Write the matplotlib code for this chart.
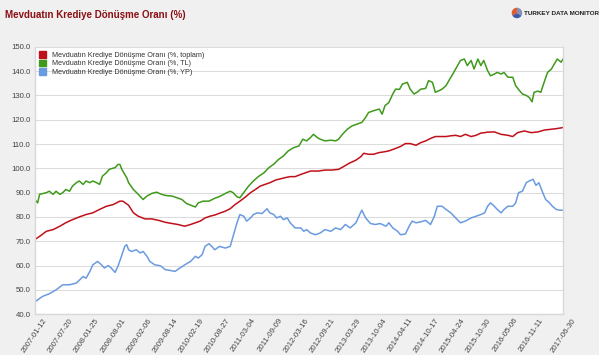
import matplotlib
matplotlib.use("Agg")
import matplotlib.pyplot as plt
import matplotlib.patches as mpatches
import pandas as pd

plt.rcParams['font.family'] = ['Liberation Sans', 'DejaVu Sans']

title = "Mevduatın Krediye Dönüşme Oranı (%)"
brand = "TURKEY DATA MONITOR"
series_names = ["Mevduatın Krediye Dönüşme Oranı (%, toplam)",
                "Mevduatın Krediye Dönüşme Oranı (%, TL)",
                "Mevduatın Krediye Dönüşme Oranı (%, YP)"]
start_date = "2007-01-12"
tick_labels = ["2007-01-12", "2007-07-20", "2008-01-25", "2008-08-01", "2009-02-06",
               "2009-08-14", "2010-02-19", "2010-08-27", "2011-03-04", "2011-09-09",
               "2012-03-16", "2012-09-21", "2013-03-29", "2013-10-04", "2014-04-11",
               "2014-10-17", "2015-04-24", "2015-10-30", "2016-05-06", "2016-11-11",
               "2017-06-30"]
y_ticks = [40, 50, 60, 70, 80, 90, 100, 110, 120, 130, 140, 150]

# weeks since start_date and values
tl_weeks = [0, 3, 5, 12, 15, 19, 22, 26, 29, 32, 36, 39, 43, 46, 50, 53, 57, 60, 64, 67,
            70, 74, 77, 83, 86, 88, 90, 93, 95, 97, 102, 107, 112, 116, 121, 126, 131,
            136, 142, 147, 152, 157, 162, 166, 169, 174, 180, 185, 190, 192, 197, 202,
            205, 209, 212, 216, 221, 226, 231, 237, 242, 247, 252, 257, 262, 268, 273,
            277, 281, 285, 288, 292, 295, 300, 306, 311, 314, 318, 323, 328, 333, 338,
            342, 345, 350, 356, 359, 362, 366, 370, 373, 377, 380, 385, 388, 392, 395,
            399, 404, 407, 411, 414, 418, 421, 425, 428, 432, 437, 440, 444, 447, 451,
            454, 458, 461, 464, 468, 471, 475, 478, 482, 485, 489, 494, 497, 501, 504,
            508, 511, 514, 516, 520, 523, 527, 530, 534, 537, 540, 544, 546]
tl_vals = [87.2, 85.8, 89.3, 90.0, 90.6, 89.3, 90.6, 89.3, 90.0, 91.3, 90.6, 92.7, 94.1,
           94.8, 93.4, 94.8, 94.1, 94.8, 94.1, 93.4, 96.8, 98.2, 99.6, 100.3, 101.6, 101.6,
           99.6, 97.5, 96.2, 94.1, 91.3, 89.3, 87.2, 88.6, 89.7, 90.2, 89.3, 88.8, 88.6,
           87.9, 87.2, 85.5, 84.7, 84.1, 85.8, 86.5, 86.5, 87.5, 88.3, 88.6, 89.7, 90.6,
           90.0, 88.3, 87.9, 90.0, 92.7, 94.8, 96.6, 98.2, 100.3, 101.7, 103.7, 105.1,
           107.2, 108.6, 109.2, 112.0, 111.3, 112.7, 114.0, 112.7, 112.0, 111.3, 111.6,
           111.3, 112.0, 114.0, 116.1, 117.5, 118.2, 118.9, 121.0, 123.0, 123.7, 124.4,
           122.3, 125.8, 127.1, 130.6, 132.6, 132.5, 134.7, 135.4, 132.6, 130.6, 131.3,
           132.6, 132.9, 136.1, 135.4, 131.3, 132.0, 132.6, 134.0, 136.1, 138.8, 142.3,
           144.4, 145.0, 142.3, 144.4, 140.9, 145.0, 142.3, 144.4, 140.2, 138.1, 138.8,
           139.5, 138.8, 139.5, 137.5, 137.5, 134.0, 132.0, 130.6, 130.0, 129.2, 127.4,
           131.3, 131.8, 131.3, 136.1, 139.5, 140.9, 143.0, 145.0, 143.7, 145.0]

tot_weeks = [0, 5, 12, 19, 26, 32, 39, 46, 53, 60, 67, 74, 81, 88, 91, 95, 97, 102, 107,
             114, 121, 128, 135, 142, 148, 155, 161, 166, 171, 176, 181, 186, 192, 197,
             202, 207, 212, 218, 223, 228, 233, 238, 243, 249, 254, 259, 264, 269, 275,
             280, 285, 293, 300, 307, 314, 319, 325, 332, 337, 340, 345, 350, 356, 361,
             366, 371, 378, 383, 388, 394, 399, 404, 409, 414, 420, 425, 430, 435, 440,
             445, 451, 456, 461, 465, 468, 475, 482, 489, 494, 499, 506, 513, 520, 527,
             534, 540, 546]
tot_vals = [70.7, 72.0, 74.1, 74.8, 76.2, 77.6, 78.9, 80.0, 81.0, 81.7, 83.1, 84.4, 85.1,
            86.5, 86.5, 85.4, 84.8, 81.7, 80.3, 79.2, 79.2, 78.6, 77.8, 77.3, 76.9, 76.2,
            76.9, 77.6, 78.3, 79.6, 80.3, 80.8, 81.7, 82.4, 83.4, 85.1, 86.5, 88.3, 90.0,
            91.3, 92.7, 93.4, 94.1, 95.2, 95.7, 96.2, 96.6, 96.6, 97.5, 98.2, 98.9, 98.9,
            99.3, 99.3, 99.6, 100.7, 102.1, 103.4, 104.8, 106.2, 105.8, 105.8, 106.5, 106.8,
            107.2, 107.9, 109.0, 110.2, 110.2, 109.5, 110.6, 111.3, 112.3, 113.1, 113.1,
            113.1, 113.4, 113.6, 113.1, 114.0, 113.1, 113.6, 114.5, 114.7, 114.9, 115.0,
            114.0, 113.6, 113.1, 114.7, 115.4, 114.7, 115.0, 115.8, 116.1, 116.4, 116.8]

fx_weeks = [0, 8, 15, 22, 29, 36, 43, 50, 53, 57, 60, 65, 69, 72, 76, 79, 83, 86, 89, 93,
            95, 97, 100, 105, 109, 112, 116, 119, 124, 130, 135, 140, 145, 150, 155, 161,
            166, 169, 173, 176, 180, 183, 186, 191, 197, 202, 205, 209, 212, 216, 219, 223,
            226, 230, 235, 240, 243, 247, 250, 254, 257, 261, 264, 269, 275, 278, 281, 285,
            290, 295, 300, 306, 311, 316, 321, 326, 332, 335, 338, 342, 347, 352, 357, 363,
            366, 370, 375, 378, 383, 387, 390, 394, 399, 404, 409, 413, 416, 421, 425, 430,
            435, 440, 445, 451, 456, 461, 465, 468, 471, 475, 478, 482, 485, 489, 494, 497,
            500, 504, 508, 511, 515, 518, 521, 525, 528, 532, 535, 539, 542, 546]
fx_vals = [45.0, 47.3, 48.4, 50.0, 52.1, 52.1, 52.8, 55.5, 54.8, 57.6, 60.3, 61.7, 60.3,
           59.0, 60.0, 59.0, 57.2, 59.7, 63.1, 67.9, 68.6, 66.5, 65.8, 66.5, 65.2, 65.8,
           63.8, 61.7, 60.3, 59.9, 58.3, 58.0, 57.6, 59.0, 60.3, 61.7, 63.8, 63.1, 64.5,
           67.9, 69.0, 67.9, 66.5, 67.9, 67.2, 67.9, 72.0, 77.6, 81.0, 80.3, 78.3, 79.6,
           81.0, 81.7, 81.4, 83.4, 81.7, 81.0, 79.6, 80.3, 78.9, 79.6, 77.6, 75.5, 75.5,
           74.1, 74.8, 73.4, 72.7, 73.4, 74.8, 74.1, 75.5, 74.8, 76.9, 75.5, 77.6, 80.3,
           82.8, 79.6, 77.3, 76.9, 77.3, 76.2, 77.6, 75.5, 74.1, 72.7, 73.0, 76.2, 78.3,
           77.6, 78.0, 78.6, 76.9, 80.3, 84.4, 84.4, 83.1, 81.7, 79.6, 77.6, 78.3, 79.6,
           80.3, 81.0, 81.7, 84.4, 85.8, 84.4, 83.1, 81.7, 83.1, 84.4, 84.4, 85.8, 90.0,
           90.6, 94.1, 94.8, 95.5, 93.0, 94.1, 90.0, 87.2, 85.8, 84.4, 83.1, 82.8, 82.8]

colors = ["#c0101a", "#3f9a1c", "#6a9be0"]
bg = "#f0f0f0"

t0 = pd.Timestamp(start_date)
def to_dates(weeks):
    return [t0 + pd.Timedelta(weeks=int(w)) for w in weeks]

fig = plt.figure(figsize=(5.99, 3.55), dpi=100, facecolor=bg)
ax = fig.add_axes([0.058, 0.115, 0.882, 0.753])
ax.set_facecolor("white")

for wk, vals, c, name in [(tot_weeks, tot_vals, colors[0], series_names[0]),
                          (tl_weeks, tl_vals, colors[1], series_names[1]),
                          (fx_weeks, fx_vals, colors[2], series_names[2])]:
    ax.plot(to_dates(wk), vals, color=c, lw=1.1, label=name)

ax.set_ylim(40, 150)
ax.set_yticks(y_ticks)
ax.set_yticklabels([f"{v:.1f}" for v in y_ticks])
ax.yaxis.grid(True, color="#dcdcdc", lw=0.8)
ax.set_axisbelow(True)

ax.set_xlim(pd.Timestamp(tick_labels[0]), pd.Timestamp(tick_labels[-1]))
ax.set_xticks([pd.Timestamp(t) for t in tick_labels])
ax.set_xticklabels(tick_labels, rotation=56, ha="center", va="top")
ax.tick_params(axis="both", labelsize=5.6, colors="#444444", length=0, pad=3)
ax.tick_params(axis="x", pad=2)

ax.spines["top"].set_visible(False)
for s in ["left", "right", "bottom"]:
    ax.spines[s].set_color("#d8d8d8")
    ax.spines[s].set_linewidth(1.0)

handles = [mpatches.Patch(color=c) for c in colors]
ax.legend(handles, series_names, loc="upper left", fontsize=5.2, frameon=False,
          handlelength=1.0, handleheight=1.0, labelspacing=0.12, borderaxespad=0.3,
          handletextpad=0.8, borderpad=0.3, labelcolor="#333333")

fig.text(0.008, 0.957, title, fontsize=7.0, fontweight="bold", color="#8b0f14",
         va="center", ha="left")

# brand mark
lax = fig.add_axes([0.852, 0.945, 0.022, 0.037])
lax.pie([1, 1, 1], colors=["#e05a2a", "#3c5aa8", "#8a8fb5"], startangle=90)
lax.set_aspect("equal")
fig.text(0.874, 0.963, brand, fontsize=4.6, fontweight="bold", color="#222222",
         va="center", ha="left")

fig.savefig("out.png", dpi=100, facecolor=bg)
